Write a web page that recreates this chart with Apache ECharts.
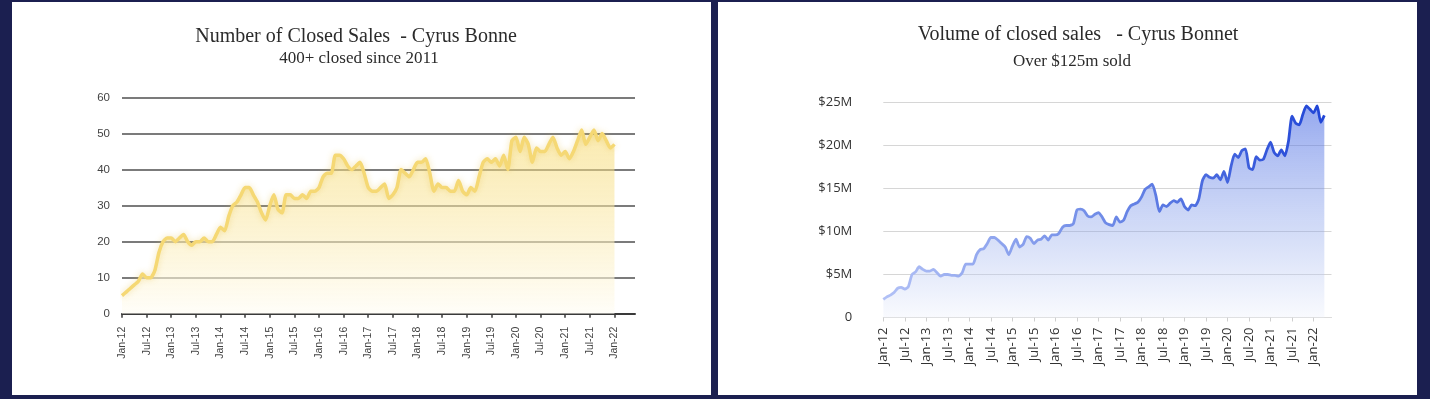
<!DOCTYPE html>
<html>
<head>
<meta charset="utf-8">
<title>Cyrus Bonnet - closed sales</title>
<script src="https://cdn.jsdelivr.net/npm/echarts@6.0.0/dist/echarts.min.js"></script>
<style>
  html, body { margin: 0; padding: 0; background: #1b1f50; }
  body { width: 1430px; height: 399px; position: relative; overflow: hidden; }
  .panel { position: absolute; top: 2px; width: 699px; height: 393px; background: #fff; }
  #left { left: 12px; }
  #right { left: 718px; }
</style>
</head>
<body>
<div id="left" class="panel"></div>
<div id="right" class="panel"></div>
<script>
// month labels Jan-12 .. Jun-22 (axis runs a little past the last point)
var monthNames = ['Jan','Feb','Mar','Apr','May','Jun','Jul','Aug','Sep','Oct','Nov','Dec'];
var years = [12,13,14,15,16,17,18,19,20,21,22];
var months = [];
for (var y = 0; y < years.length; y++) {
  for (var m = 0; m < 12; m++) {
    if (years[y] == 22 && m > 5) break;
    months.push(monthNames[m] + '-' + years[y]);
  }
}

// number of closed sales per month, Jan-12 .. Jan-22
var closedCount = [
  5, 6, 7, 8, 9, 11, 10, 10, 12, 17, 20, 21,
  21, 20, 21, 22, 20, 19, 20, 20, 21, 20, 20, 22,
  24, 23, 27, 30, 31, 33, 35, 35, 33, 31, 28, 26,
  30, 33, 29, 28, 33, 33, 32, 32, 33, 32, 34, 34,
  35, 38, 39, 39, 44, 44, 43, 41, 40, 41, 42, 39,
  35, 34, 34, 35, 36, 32, 33, 35, 40, 39, 38, 40,
  42, 42, 43, 39, 34, 36, 35, 35, 34, 34, 37, 34,
  33, 35, 34, 38, 42, 43, 42, 43, 41, 44, 40, 48,
  49, 45, 49, 47, 42, 46, 45, 45, 47, 49, 46, 44,
  45, 43, 45, 48, 51, 47, 49, 51, 48, 50, 48, 46,
  47
];

// volume of closed sales per month in $M, Jan-12 .. Apr-22
var closedVolume = [
  2.1, 2.4, 2.6, 2.9, 3.4, 3.5, 3.3, 3.6, 5.0, 5.3, 5.9, 5.6,
  5.4, 5.4, 5.6, 5.2, 4.8, 5.0, 5.0, 4.9, 4.9, 4.8, 5.2, 6.2,
  6.2, 6.2, 7.3, 7.9, 8.0, 8.6, 9.3, 9.3, 9.0, 8.6, 8.2, 7.3,
  8.3, 9.1, 8.2, 8.5, 9.4, 9.2, 8.6, 9.0, 9.1, 9.5, 9.0, 9.6,
  9.6, 9.8, 10.5, 10.7, 10.7, 10.9, 12.5, 12.6, 12.4, 11.8, 11.7, 12.0,
  12.2, 11.7, 11.0, 10.8, 10.7, 11.7, 11.1, 11.3, 12.3, 13.0, 13.2, 13.4,
  14.0, 14.9, 15.2, 15.5, 14.2, 12.3, 13.1, 12.9, 13.3, 13.6, 13.4, 13.8,
  12.9, 12.5, 13.1, 13.0, 13.8, 15.9, 16.6, 16.3, 16.2, 16.6, 16.0, 17.0,
  15.7, 17.6, 19.0, 18.6, 19.4, 19.6, 17.4, 17.2, 18.7, 18.3, 18.4, 19.5,
  20.4, 19.2, 18.8, 19.5, 18.8, 20.5, 23.4, 22.6, 22.4, 23.6, 24.6, 24.2,
  23.8, 24.6, 22.7, 23.5
];

var countTitle = 'Number of Closed Sales  - Cyrus Bonne';
var countSubtitle = '400+ closed since 2011';
var volumeTitle = 'Volume of closed sales   - Cyrus Bonnet';
var volumeSubtitle = 'Over $125m sold';

var serif = "'Liberation Serif', 'DejaVu Serif', serif";

// 左图：成交数量
var leftChart = echarts.init(document.getElementById('left'));
leftChart.setOption({
  animation: false,
  graphic: [
    { type: 'text', x: 344, y: 35, style: { text: countTitle, font: '20px ' + serif, fill: '#2b2b2b', textAlign: 'center', textVerticalAlign: 'middle' } },
    { type: 'text', x: 347, y: 57, style: { text: countSubtitle, font: '17px ' + serif, fill: '#2b2b2b', textAlign: 'center', textVerticalAlign: 'middle' } }
  ],
  grid: { left: 110, right: 76, top: 95.5, bottom: 81.3 },
  xAxis: {
    type: 'category',
    boundaryGap: false,
    data: months,
    offset: 4,
    axisLine: { lineStyle: { color: '#3a3a3a', width: 2 } },
    axisTick: { interval: 5, length: 4, lineStyle: { color: '#3a3a3a', width: 1.5 } },
    axisLabel: {
      interval: 5, rotate: 90, margin: 9,
      fontSize: 10.5, color: '#444',
      fontFamily: "'Liberation Sans Narrow', 'Liberation Sans', Arial, sans-serif"
    },
    splitLine: { show: false }
  },
  yAxis: {
    type: 'value',
    min: 0, max: 60, interval: 10,
    axisLine: { show: false },
    axisTick: { show: false },
    axisLabel: {
      margin: 12, fontSize: 11.5, color: '#444',
      fontFamily: "'Liberation Sans Narrow', 'Liberation Sans', Arial, sans-serif"
    },
    splitLine: { lineStyle: { color: '#4f4f4f', width: 1.6 } }
  },
  series: [{
    name: 'closed',
    type: 'line',
    data: closedCount,
    smooth: 0.2,
    showSymbol: false,
    lineStyle: { color: '#f5d874', width: 3.5, shadowColor: 'rgba(230,195,80,0.45)', shadowBlur: 6 },
    areaStyle: {
      color: new echarts.graphic.LinearGradient(0, 0, 0, 1, [
        { offset: 0, color: 'rgba(245,214,100,0.72)' },
        { offset: 1, color: 'rgba(255,253,245,0.92)' }
      ])
    }
  }]
});

// 右图：成交金额
var rightChart = echarts.init(document.getElementById('right'));
rightChart.setOption({
  animation: false,
  graphic: [
    { type: 'text', x: 360, y: 33, style: { text: volumeTitle, font: '20px ' + serif, fill: '#2b2b2b', textAlign: 'center', textVerticalAlign: 'middle' } },
    { type: 'text', x: 354, y: 60, style: { text: volumeSubtitle, font: '17px ' + serif, fill: '#2b2b2b', textAlign: 'center', textVerticalAlign: 'middle' } }
  ],
  grid: { left: 165.3, right: 85.5, top: 100.5, bottom: 77.5 },
  xAxis: {
    type: 'category',
    boundaryGap: false,
    data: months,
    axisLine: { lineStyle: { color: '#dcdcdc', width: 1 } },
    axisTick: { interval: 5, length: 4, lineStyle: { color: '#cfcfcf' } },
    axisLabel: {
      interval: 5, rotate: 90, margin: 10,
      fontSize: 13, color: '#333',
      fontFamily: "'Open Sans', 'Noto Sans', sans-serif"
    },
    splitLine: { show: false }
  },
  yAxis: {
    type: 'value',
    min: 0, max: 25, interval: 5,
    axisLine: { show: false },
    axisTick: { show: false },
    axisLabel: {
      margin: 31, fontSize: 13, color: '#333',
      fontFamily: "'Open Sans', 'Noto Sans', sans-serif",
      formatter: function (v) { return v === 0 ? '0' : '$' + v + 'M'; }
    },
    splitLine: { lineStyle: { color: '#d6d6d6', width: 1 } }
  },
  series: [{
    name: 'volume',
    type: 'line',
    data: closedVolume,
    smooth: 0.2,
    showSymbol: false,
    lineStyle: {
      width: 2.8,
      color: new echarts.graphic.LinearGradient(0, 0, 1, 0, [
        { offset: 0, color: '#b2c1f6' },
        { offset: 0.5, color: '#6f8be7' },
        { offset: 1, color: '#1f44d6' }
      ])
    },
    areaStyle: {
      color: new echarts.graphic.LinearGradient(0, 0, 0, 1, [
        { offset: 0, color: 'rgba(66,100,226,0.8)' },
        { offset: 0.55, color: 'rgba(120,148,232,0.5)' },
        { offset: 1, color: 'rgba(238,242,253,0.5)' }
      ])
    }
  }]
});
</script>
</body>
</html>
